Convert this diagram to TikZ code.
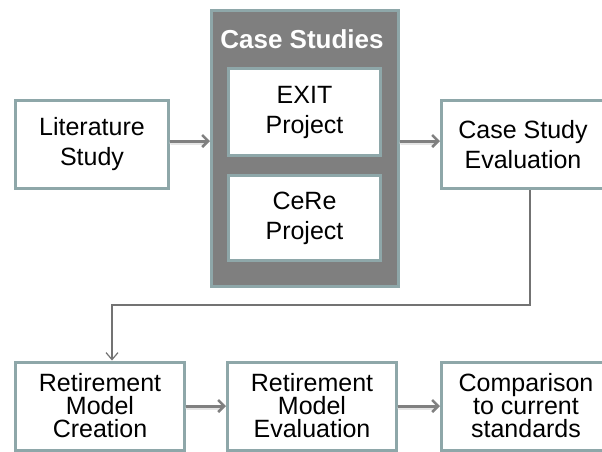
\documentclass[tikz,border=0pt]{standalone}
\usepackage{fontspec}
\setmainfont{Liberation Sans}
\usetikzlibrary{arrows.meta}

\definecolor{boxline}{RGB}{142,167,169}
\definecolor{casegray}{RGB}{127,127,127}
\definecolor{flowgray}{RGB}{128,128,128}

\tikzset{
  stagebox/.style={draw=boxline, line width=3pt, fill=white, align=center,
    inner sep=0pt, minimum width=#1, minimum height=88pt,
    font=\fontsize{25}{30}\selectfont},
  stagebox/.default=153pt,
  tightbox/.style={stagebox=#1, font=\fontsize{25}{23}\selectfont},
  flow/.style={draw=flowgray, line width=3pt, -{Straight Barb[length=6pt,width=12pt,line width=2.5pt]}},
  flowshadow/.style={draw=black!10, line width=4pt, line cap=round},
  link/.style={draw=flowgray!90!black, line width=1.5pt, -{Straight Barb[length=7pt,width=12pt,line width=1.2pt]}}
}

\begin{document}
\begin{tikzpicture}[x=1pt, y=-1pt]

\useasboundingbox (0,0) rectangle (602,451);
\clip (0,0) rectangle (602,451);

% top row
\node[stagebox] (lit) at (92,144.5) {Literature\\Study};

\node[draw=boxline, line width=3pt, fill=casegray, minimum width=187pt,
  minimum height=276pt, inner sep=0pt] (case) at (305,148.5) {};
\node[text=white, font=\bfseries\fontsize{26}{30}\selectfont] (casetitle) at (302,39) {Case Studies};
\node[stagebox=152pt, minimum height=87pt] (exit) at (304.5,112) {EXIT\\Project};
\node[stagebox=152pt, minimum height=85pt] (cere) at (304.5,218) {CeRe\\Project};

\node[stagebox=163pt] (eval) at (523,144.5) {Case Study\\Evaluation};

% bottom row
\node[tightbox=169pt] (create) at (100,406) {Retirement\\Model\\Creation};
\node[tightbox=169pt] (check) at (312,406) {Retirement\\Model\\Evaluation};
\node[tightbox=169pt] (comp) at (526,406) {Comparison\\to current\\standards};

% connectors
\coordinate (turn1) at (530,305);
\coordinate (turn2) at (112,305);

\path[flowshadow] ([shift={(1.5,-2)}]lit.east) -- ([shift={(-6,-2)}]lit.east -| case.west);
\path[flowshadow] ([shift={(1.5,-6)}]case.east) -- ([shift={(-6,-6)}]case.east -| eval.west);
\path[flowshadow] ([shift={(1.5,1.5)}]create.east) -- ([shift={(-6,1.5)}]check.west);
\path[flowshadow] ([shift={(1.5,1.5)}]check.east) -- ([shift={(-6,1.5)}]comp.west);

\draw[flow] ([yshift=3.5]lit.east) -- ([yshift=3.5]lit.east -| case.west);
\draw[flow] ([yshift=7.5]case.east) -- ([yshift=7.5]case.east -| eval.west);
\draw[flow] (create.east) -- (check.west);
\draw[flow] (check.east) -- (comp.west);

\draw[link] (eval.south -| turn1) -- (turn1) -- (turn2) -- (create.north -| turn2);

\end{tikzpicture}
\end{document}
